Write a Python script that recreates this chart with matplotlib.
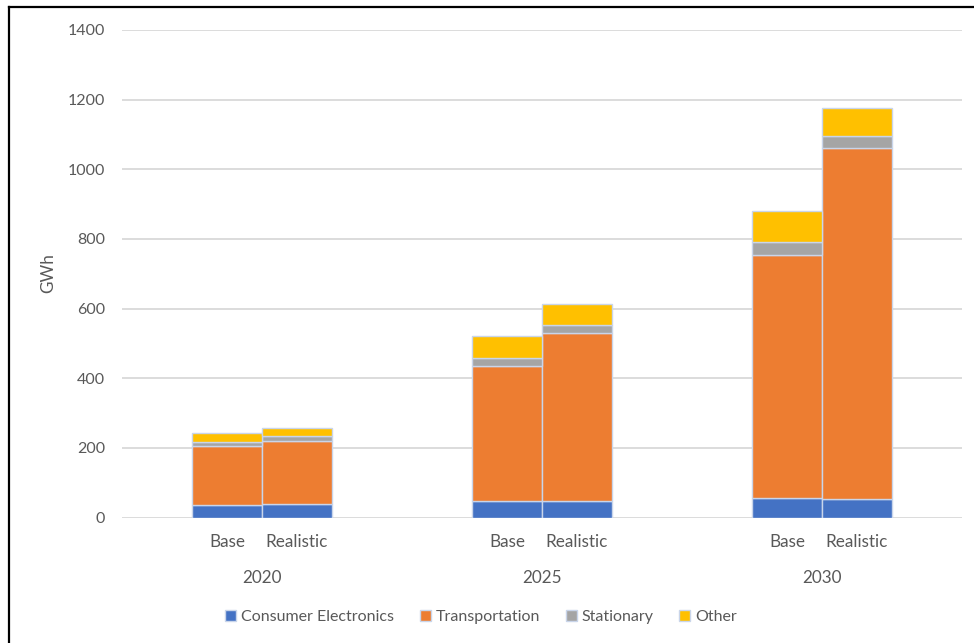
import numpy as np
import matplotlib.pyplot as plt
from matplotlib.transforms import blended_transform_factory
from matplotlib.lines import Line2D

plt.rcParams['font.family'] = ['Lato', 'DejaVu Sans']

# datos (GWh)
years = ["2020", "2025", "2030"]
scenarios = ["Base", "Realistic"]
series = ["Consumer Electronics", "Transportation", "Stationary", "Other"]
consumer = [37, 40, 48, 48, 56, 53]
transport = [168, 180, 388, 482, 698, 1008]
stationary = [12, 13, 23, 23, 38, 36]
other = [25, 23, 61, 59, 88, 79]
colores = ["#4472C4", "#ED7D31", "#A5A5A5", "#FFC000"]
gris = "#595959"

fig = plt.figure(figsize=(9.74, 6.43), dpi=100)
ax = fig.add_axes([122/974, 125.5/643, 840/974, 487.5/643])

# posiciones: dos barras por año con un hueco entre grupos
pos = np.array([g*4 + s for g in range(len(years)) for s in range(len(scenarios))])
base = np.zeros(len(pos))
for datos, col, nom in zip([consumer, transport, stationary, other], colores, series):
    ax.bar(pos, datos, width=1.0, bottom=base, color=col, edgecolor="#C9D5EA",
           linewidth=1.0, label=nom, zorder=3)
    base = base + np.array(datos)

ax.set_xlim(-1.5, 10.5)
ax.set_ylim(0, 1400)
ax.set_yticks(np.arange(0, 1401, 200))
ax.yaxis.grid(True, color="#D9D9D9", linewidth=1.3, zorder=0)
ax.tick_params(axis="y", length=0, pad=12, labelsize=11.5, labelcolor=gris)
ax.set_xticks([])
for s in ax.spines.values():
    s.set_visible(False)

# etiquetas del eje x en dos niveles
tr = blended_transform_factory(ax.transData, ax.transAxes)
for i, p in enumerate(pos):
    ax.text(p, -24.5/487.5, scenarios[i % 2], transform=tr, ha="center", va="center",
            fontsize=12.3, color=gris)
for g, y in enumerate(years):
    ax.text(g*4 + 0.5, -60.5/487.5, y, transform=tr, ha="center", va="center",
            fontsize=12.3, color=gris)

fig.text(48/974, 1 - 273/643, "GWh", rotation=90, ha="center", va="center",
         fontsize=12.3, color=gris)

leg = fig.legend(loc="center", bbox_to_anchor=(481/974, 1 - 617/643), ncol=4,
                 frameon=False, fontsize=11.5, handlelength=0.7, handleheight=0.7,
                 handletextpad=0.3, columnspacing=1.6)
for t in leg.get_texts():
    t.set_color(gris)

# marco negro
fig.add_artist(Line2D([9/974, 9/974], [0, 1 - 7/643], color="black", linewidth=1.6))
fig.add_artist(Line2D([9/974, 973/974], [1 - 7/643, 1 - 7/643], color="black", linewidth=1.6))

plt.savefig("out.png", dpi=100)
